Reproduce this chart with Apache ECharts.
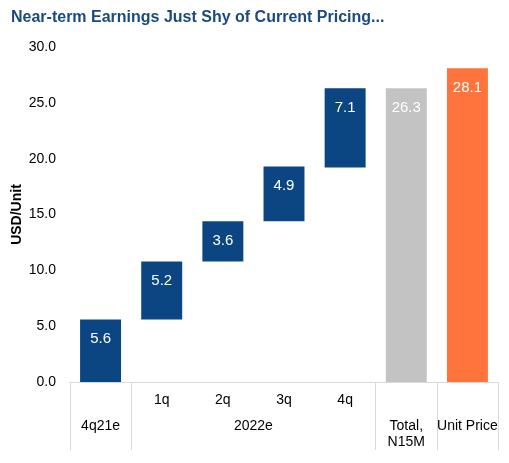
<!DOCTYPE html>
<html lang="en">
<head>
    <meta charset="UTF-8">
    <title>Near-term Earnings</title>
    <script src="https://cdn.jsdelivr.net/npm/echarts@6.0.0/dist/echarts.min.js"></script>
    <style>
        html, body { margin: 0; padding: 0; background: #fff; }
        #main { width: 509px; height: 463px; }
    </style>
</head>
<body>
    <div id="main"></div>
    <script>
        // quarters along the bottom, plus the two summary columns
        var categories = ['4q21e', '1q', '2q', '3q', '4q', 'Total, N15M', 'Unit Price'];
        var subLabels = ['', '1q', '2q', '3q', '4q', '', ''];
        // where each floating bar starts, and how tall it is
        var bases = [0, 5.6, 10.8, 14.4, 19.2, 0, 0];
        var values = [5.6, 5.2, 3.6, 4.9, 7.1, 26.3, 28.1];
        // group labels on the second row of the table (position in column units)
        var groupPos = [0.5, 3, 5.5, 6.5];
        var groupLabels = ['4q21e', '2022e', 'Total,\nN15M', 'Unit Price'];
        var groupEdges = [0, 1, 5, 6, 7];

        var navy = '#0c4682';
        var barColors = [navy, navy, navy, navy, navy, '#c3c3c3', '#ff733c'];

        var myChart = echarts.init(document.getElementById('main'));

        var option = {
            animation: false,
            textStyle: { fontFamily: 'Liberation Sans, Arial, sans-serif' },
            title: {
                text: 'Near-term Earnings Just Shy of Current Pricing...',
                left: 6,
                top: 5,
                textStyle: {
                    color: '#1b4a80',
                    fontSize: 16,
                    fontWeight: 'bold',
                    fontFamily: 'Liberation Sans, Arial, sans-serif'
                }
            },
            grid: { left: 70, right: 11, top: 47, bottom: 81, outerBoundsMode: 'none', containLabel: false },
            xAxis: [
                {
                    type: 'category',
                    data: categories,
                    axisLine: { show: true, lineStyle: { color: '#d9d9d9', width: 1 } },
                    axisTick: { show: false },
                    axisLabel: {
                        margin: 11,
                        color: '#000',
                        fontSize: 14,
                        formatter: function (v, i) { return subLabels[i]; }
                    }
                },
                {
                    type: 'value',
                    position: 'bottom',
                    min: 0,
                    max: 7,
                    splitLine: { show: false },
                    axisLine: { show: false },
                    axisTick: {
                        show: true,
                        customValues: groupEdges,
                        length: 68,
                        lineStyle: { color: '#d9d9d9', width: 1 }
                    },
                    axisLabel: {
                        customValues: groupPos,
                        margin: 36,
                        color: '#000',
                        fontSize: 14,
                        lineHeight: 16,
                        verticalAlign: 'top',
                        showMinLabel: true,
                        showMaxLabel: true,
                        formatter: function (v) {
                            var i = groupPos.indexOf(v);
                            return i >= 0 ? groupLabels[i] : '';
                        }
                    }
                }
            ],
            yAxis: {
                type: 'value',
                min: 0,
                max: 30,
                interval: 5,
                name: 'USD/Unit',
                nameLocation: 'middle',
                nameGap: 46,
                nameMoveOverlap: false,
                nameTextStyle: { color: '#000', fontSize: 14, fontWeight: 'bold' },
                axisLine: { show: false },
                axisTick: { show: false },
                splitLine: { show: false },
                axisLabel: {
                    margin: 14,
                    color: '#000',
                    fontSize: 14,
                    formatter: function (v) { return v.toFixed(1); }
                }
            },
            series: [
                {
                    name: 'base',
                    type: 'bar',
                    stack: 'wf',
                    xAxisIndex: 0,
                    barWidth: '67%',
                    itemStyle: { color: 'transparent' },
                    emphasis: { disabled: true },
                    data: bases
                },
                {
                    name: 'value',
                    type: 'bar',
                    stack: 'wf',
                    xAxisIndex: 0,
                    barWidth: '67%',
                    data: values.map(function (v, i) {
                        return { value: v, itemStyle: { color: barColors[i] } };
                    }),
                    label: {
                        show: true,
                        position: 'insideTop',
                        distance: 12,
                        color: '#fff',
                        fontSize: 15,
                        formatter: function (p) { return p.value.toFixed(1); }
                    }
                }
            ]
        };

        myChart.setOption(option);
    </script>
</body>
</html>
